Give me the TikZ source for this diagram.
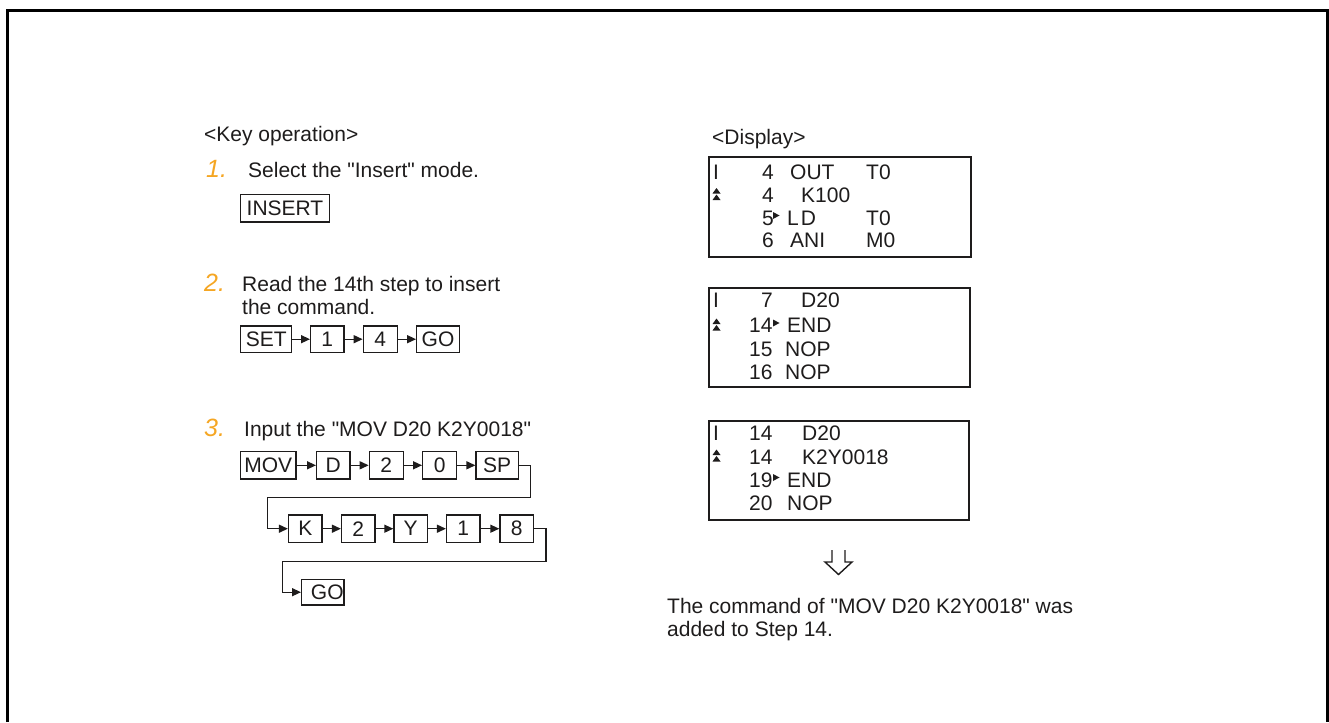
\documentclass[tikz,border=0pt]{standalone}
\usepackage{fontspec}
\setmainfont{Liberation Sans}[Ligatures=TeXOff]
\usetikzlibrary{arrows.meta}
\definecolor{stepnum}{RGB}{245,166,35}
\definecolor{ink}{RGB}{30,28,28}
\begin{document}
\begin{tikzpicture}[x=1pt,y=-1pt,
  txt/.style={anchor=base west, inner sep=0pt, font=\fontsize{21}{25}\selectfont, text=ink},
  num/.style={anchor=base west, inner sep=0pt, font=\fontsize{25}{28}\selectfont\itshape, text=stepnum},
  key/.style={draw=ink, line width=1.3pt, inner sep=0pt, minimum height=27pt, font=\fontsize{21}{25}\selectfont, text=ink},
  flow/.style={draw=ink, line width=1.4pt, -{Triangle[length=9pt,width=8pt]}},
  disp/.style={draw=ink, line width=2pt, inner sep=0pt, anchor=north west},
  dtxt/.style={anchor=base west, inner sep=0pt, font=\fontsize{21}{24}\selectfont, text=ink},
  pics/dbltri/.style={code={
    \fill[ink] (-0.5,0.5) -- (7.5,0.5) -- (3.5,-5) -- cycle;
    \fill[ink] (-0.5,-6) -- (7.5,-6) -- (3.5,-11.5) -- cycle;}},
  pics/rtri/.style={code={
    \fill[ink] (0,0) -- (0,-7) -- (6.5,-3.5) -- cycle;}}
]
\useasboundingbox (0,0) rectangle (1329,722);
% outer frame
\draw[line width=3pt, draw=black] (7.5,722) -- (7.5,10.5) -- (1327.7,10.5) -- (1327.7,722);

% ---- key operation column
\node[txt] (keyop) at (204,142) {<Key operation>};

\node[num] (n1) at (206,178) {1.};
\node[txt] (s1) at (248,178) {Select the "Insert" mode.};
\node[key, minimum width=88.6pt, minimum height=27.7pt] (kins) at (285,208) {INSERT};

\node[num] (n2) at (204,291) {2.};
\node[txt] (s2a) at (242,291) {Read the 14th step to insert};
\node[txt] (s2b) at (242,314) {the command.};
\node[key, minimum width=51pt, minimum height=26.3pt] (kset) at (266.2,339.2) {SET};
\node[key, minimum width=33.3pt, minimum height=26.3pt] (kone) at (327.3,339.2) {1};
\node[key, minimum width=34pt, minimum height=26.3pt] (kfour) at (380.3,339.2) {4};
\node[key, minimum width=42.6pt, minimum height=26.3pt] (kgoa) at (438,339.2) {GO};
\draw[flow] (kset.east) -- (kone.west);
\draw[flow] (kone.east) -- (kfour.west);
\draw[flow] (kfour.east) -- (kgoa.west);

\node[num] (n3) at (204,436) {3.};
\node[txt] (s3) at (244,436) {Input the "MOV D20 K2Y0018"};
% row 1
\node[key, minimum width=55.3pt, minimum height=27.3pt] (kmov) at (268.3,465.3) {MOV};
\node[key, minimum width=33.3pt, minimum height=27.3pt] (kd) at (333.3,465.3) {D};
\node[key, minimum width=34pt, minimum height=27.3pt] (ktwoa) at (386.3,465.3) {2};
\node[key, minimum width=34pt, minimum height=27.3pt] (kzero) at (439.7,465.3) {0};
\node[key, minimum width=42.3pt, minimum height=27.3pt] (ksp) at (497.2,465.3) {SP};
\draw[flow] (kmov.east) -- (kd.west);
\draw[flow] (kd.east) -- (ktwoa.west);
\draw[flow] (ktwoa.east) -- (kzero.west);
\draw[flow] (kzero.east) -- (ksp.west);
% row 2
\node[key, minimum width=33.5pt, minimum height=27.3pt] (kk) at (305.3,528.7) {K};
\node[key, minimum width=33.5pt, minimum height=27.3pt] (ktwob) at (358.3,528.7) {2};
\node[key, minimum width=33.5pt, minimum height=27.3pt] (ky) at (410.7,528.7) {Y};
\node[key, minimum width=33.5pt, minimum height=27.3pt] (koneb) at (463.3,528.7) {1};
\node[key, minimum width=33.5pt, minimum height=27.3pt] (keight) at (516.7,528.7) {8};
\draw[flow] (kk.east) -- (ktwob.west);
\draw[flow] (ktwob.east) -- (ky.west);
\draw[flow] (ky.east) -- (koneb.west);
\draw[flow] (koneb.east) -- (keight.west);
% row 3
\node[key, minimum width=42.3pt, minimum height=25.7pt] (kgob) at (322.8,592.2) {\hspace*{9pt}GO};
% turn connectors
\coordinate (ta) at (530.7,497.3);
\coordinate (tb) at (267.3,497.3);
\coordinate (tc) at (546,561.7);
\coordinate (td) at (282.7,561.7);
\draw[flow] (ksp.east) -| (ta) -- (tb) |- (kk.west);
\draw[flow] (keight.east) -| (tc) -- (td) |- (kgob.west);

% ---- display column
\node[txt] (dispttl) at (712,145) {<Display>};

% display 1
\node[disp, minimum width=262pt, minimum height=100pt] (dA) at (708,156) {};
\node[dtxt] (a1i) at (713,179.5) {I};
\node[dtxt] (a1n) at (762,179.5) {4};
\node[dtxt] (a1c) at (790,179.5) {OUT};
\node[dtxt] (a1o) at (866,179.5) {T0};
\pic at (713,199.5) {dbltri};
\node[dtxt] (a2n) at (762,202.5) {4};
\node[dtxt] (a2o) at (801,202.5) {K100};
\node[dtxt] (a3n) at (762,225) {5};
\pic at (773,219) {rtri};
\node[dtxt] (a3c) at (787,225) {L\hspace{2pt}D};
\node[dtxt] (a3o) at (866,225) {T0};
\node[dtxt] (a4n) at (762,247.5) {6};
\node[dtxt] (a4c) at (790,247.5) {ANI};
\node[dtxt] (a4o) at (866,247.5) {M0};

% display 2
\node[disp, minimum width=261pt, minimum height=99pt] (dB) at (708,287) {};
\node[dtxt] (b1i) at (713,307.5) {I};
\node[dtxt] (b1n) at (761,307.5) {7};
\node[dtxt] (b1o) at (801,307.5) {D20};
\pic at (713,330) {dbltri};
\node[dtxt] (b2n) at (749,332.5) {14};
\pic at (773,326.5) {rtri};
\node[dtxt] (b2c) at (787,332.5) {END};
\node[dtxt] (b3n) at (749,356) {15};
\node[dtxt] (b3c) at (785,356) {NOP};
\node[dtxt] (b4n) at (749,379.5) {16};
\node[dtxt] (b4c) at (785,379.5) {NOP};

% display 3
\node[disp, minimum width=260pt, minimum height=99pt] (dC) at (708,420) {};
\node[dtxt] (c1i) at (713,440.5) {I};
\node[dtxt] (c1n) at (749,440.5) {14};
\node[dtxt] (c1o) at (802,440.5) {D20};
\pic at (713,461) {dbltri};
\node[dtxt] (c2n) at (749,464) {14};
\node[dtxt] (c2o) at (802,464) {K2Y0018};
\node[dtxt] (c3n) at (749,487) {19};
\pic at (773,481) {rtri};
\node[dtxt] (c3c) at (787,487) {END};
\node[dtxt] (c4n) at (749,510) {20};
\node[dtxt] (c4c) at (787,510) {NOP};

% hollow down arrow
\draw[ink, line width=1.4pt, line join=miter] (832,550) -- (832,562) -- (825,562) -- (838.5,574.5) -- (852,562) -- (845,562) -- (845,550);

\node[txt] (res1) at (667,613) {The command of "MOV D20 K2Y0018" was};
\node[txt] (res2) at (667,636) {added to Step 14.};
\end{tikzpicture}
\end{document}
